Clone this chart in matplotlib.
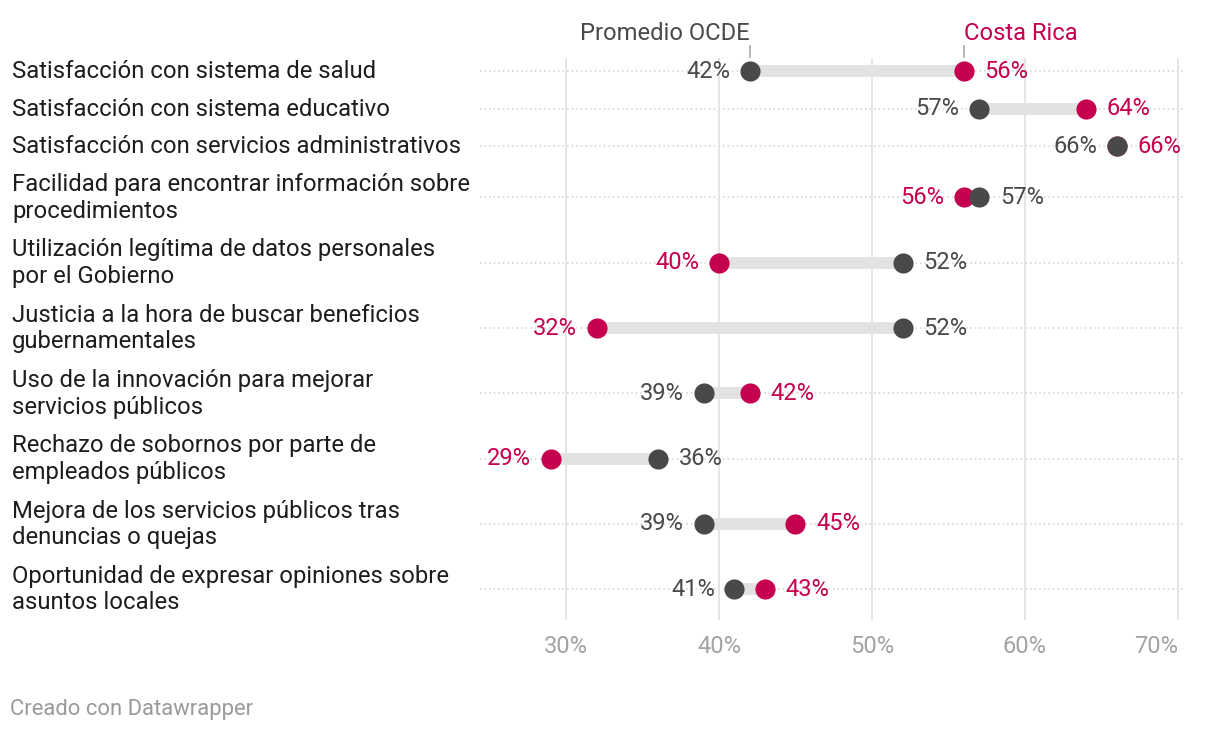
import matplotlib.pyplot as plt

plt.rcParams['font.family'] = ['Roboto', 'DejaVu Sans']

# Data (percent)
categories = [
    "Satisfacción con sistema de salud",
    "Satisfacción con sistema educativo",
    "Satisfacción con servicios administrativos",
    "Facilidad para encontrar información sobre\nprocedimientos",
    "Utilización legítima de datos personales\npor el Gobierno",
    "Justicia a la hora de buscar beneficios\ngubernamentales",
    "Uso de la innovación para mejorar\nservicios públicos",
    "Rechazo de sobornos por parte de\nempleados públicos",
    "Mejora de los servicios públicos tras\ndenuncias o quejas",
    "Oportunidad de expresar opiniones sobre\nasuntos locales",
]
ocde = [42, 57, 66, 57, 52, 52, 39, 36, 39, 41]
costa_rica = [56, 64, 66, 56, 40, 32, 42, 29, 45, 43]
x_ticks = [30, 40, 50, 60, 70]

PINK = "#c4004f"
DARK = "#494949"
BAR = "#e2e2e2"

W, H = 1220, 732
fig = plt.figure(figsize=(W / 100, H / 100), dpi=100)

# axes in pixel layout: x 480..1185, y 58..620
ax_l, ax_r, ax_t, ax_b = 480, 1185, 58, 620
ax = fig.add_axes([ax_l / W, 1 - ax_b / H, (ax_r - ax_l) / W, (ax_b - ax_t) / H])
ax.set_xlim(24.38, 70.46)
ax.set_ylim(ax_b, ax_t)  # y in pixel units, top-down

# row positions from number of label lines
heights = [37.5 if "\n" not in c else 65.3 for c in categories]
ys = []
y = 71
for i, h in enumerate(heights):
    if i > 0:
        y += (heights[i - 1] + h) / 2
    ys.append(y)

for t in x_ticks:
    ax.axvline(t, color="#e3e3e3", lw=1.3, zorder=1)

for i, yy in enumerate(ys):
    ax.plot([24.38, 70.46], [yy, yy], color="#cfcfcf", lw=1.1,
            linestyle=(0, (1, 2)), zorder=0)
    lo, hi = sorted([ocde[i], costa_rica[i]])
    ax.plot([lo, hi], [yy, yy], color=BAR, lw=8.5, solid_capstyle="butt", zorder=2)
    ax.plot(costa_rica[i], yy, "o", ms=14.5, color=PINK, mec="none", zorder=3)
    ax.plot(ocde[i], yy, "o", ms=14.5, color=DARK, mec="none", zorder=4)
    # label lower value on the left, higher on the right
    if costa_rica[i] >= ocde[i]:
        left = (ocde[i], DARK)
        right = (costa_rica[i], PINK)
    else:
        left = (costa_rica[i], PINK)
        right = (ocde[i], DARK)
    ax.annotate(f"{left[0]}%", (left[0], yy), xytext=(-14, 0), textcoords="offset points",
                ha="right", va="center", fontsize=17, color=left[1])
    ax.annotate(f"{right[0]}%", (right[0], yy), xytext=(15, 0), textcoords="offset points",
                ha="left", va="center", fontsize=17, color=right[1])

    fig.text(12 / W, 1 - (yy + 0.5) / H, categories[i], ha="left", va="center",
             fontsize=17.2, color="#1d1d1d", linespacing=1.2)

# header labels
ax.plot([ocde[0], ocde[0]], [46, 57], color="#aaaaaa", lw=1.2, clip_on=False)
ax.plot([costa_rica[0], costa_rica[0]], [46, 57], color="#aaaaaa", lw=1.2, clip_on=False)
ax.text(ocde[0], 33.5, "Promedio OCDE", ha="right", va="center", fontsize=17.1, color=DARK)
ax.text(costa_rica[0], 33.5, "Costa Rica", ha="left", va="center", fontsize=17.1, color=PINK)

ax.set_xticks(x_ticks)
ax.set_xticklabels([f"{t}%" for t in x_ticks])
ax.tick_params(axis="x", length=0, labelsize=17, labelcolor="#a3a3a3", pad=11)
ax.get_xticklabels()[-1].set_horizontalalignment("right")
ax.set_yticks([])
for s in ax.spines.values():
    s.set_visible(False)

fig.text(10 / W, 1 - 710 / H, "Creado con Datawrapper", ha="left", va="center",
         fontsize=15.8, color="#9a9a9a")

fig.savefig("out.png", dpi=100, facecolor="white")
